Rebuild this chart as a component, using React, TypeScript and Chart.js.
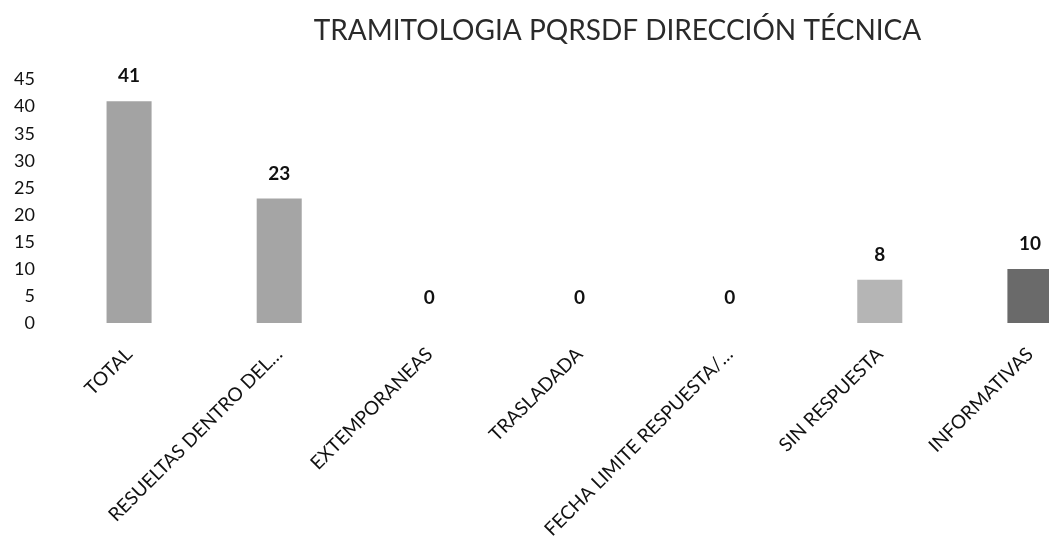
import React, { useEffect, useRef } from "react";
import { Chart, registerables } from "chart.js";

Chart.register(...registerables);

const TITLE = "TRAMITOLOGIA PQRSDF DIRECCIÓN TÉCNICA";
const categories = [
  "TOTAL",
  "RESUELTAS DENTRO DEL…",
  "EXTEMPORANEAS",
  "TRASLADADA",
  "FECHA LIMITE RESPUESTA/…",
  "SIN RESPUESTA",
  "INFORMATIVAS",
];
const values = [41, 23, 0, 0, 0, 8, 10];
const barColors = ["#a3a3a3", "#a5a5a5", "#a3a3a3", "#a3a3a3", "#a3a3a3", "#b5b5b5", "#6a6a6a"];
const Y_MIN = 0;
const Y_MAX = 45;
const Y_STEP = 5;

const FONT = "Lato, 'Liberation Sans', sans-serif";

const valueLabels = {
  id: "valueLabels",
  afterDatasetsDraw(chart: any) {
    const ctx = chart.ctx;
    const meta = chart.getDatasetMeta(0);
    ctx.save();
    ctx.font = `bold 19px ${FONT}`;
    ctx.fillStyle = "#111111";
    ctx.textAlign = "center";
    ctx.textBaseline = "middle";
    meta.data.forEach((bar: any, i: number) => {
      ctx.fillText(String(values[i]), bar.x, bar.y - 25);
    });
    ctx.restore();
  },
};

export default function App() {
  const ref = useRef<HTMLCanvasElement | null>(null);
  useEffect(() => {
    if (!ref.current) return;
    const chart = new Chart(ref.current, {
      type: "bar",
      data: {
        labels: categories,
        datasets: [
          {
            data: values,
            backgroundColor: barColors,
            borderWidth: 0,
            categoryPercentage: 1,
            barPercentage: 0.3,
          },
        ],
      },
      options: {
        animation: false,
        responsive: false,
        devicePixelRatio: 1,
        layout: { padding: 0 },
        plugins: {
          legend: { display: false },
          tooltip: { enabled: false },
          title: {
            display: true,
            text: TITLE,
            color: "#2a2a2a",
            font: { family: FONT, size: 28, weight: "normal" },
            padding: { top: 14, bottom: 32 },
          },
        },
        scales: {
          x: {
            grid: { display: false, drawTicks: false },
            border: { display: false },
            ticks: {
              autoSkip: false,
              maxRotation: 45,
              minRotation: 45,
              padding: 20,
              color: "#111111",
              font: { family: FONT, size: 19 },
            },
            afterFit: (s: any) => {
              s.height = 213;
            },
          },
          y: {
            min: Y_MIN,
            max: Y_MAX,
            grid: { display: false, drawTicks: false },
            border: { display: false },
            ticks: {
              stepSize: Y_STEP,
              padding: 19,
              color: "#111111",
              font: { family: FONT, size: 18 },
            },
            afterFit: (s: any) => {
              s.width = 54;
            },
          },
          y2: {
            position: "right",
            min: Y_MIN,
            max: Y_MAX,
            grid: { display: false, drawTicks: false },
            border: { display: false },
            ticks: { display: false },
            afterFit: (s: any) => {
              s.width = 130;
            },
          },
        },
      },
      plugins: [valueLabels],
    });
    return () => chart.destroy();
  }, []);
  return (
    <div
      style={{
        position: "fixed",
        left: 0,
        top: 0,
        width: 1049,
        height: 536,
        overflow: "hidden",
        background: "#ffffff",
      }}
    >
      <canvas ref={ref} width={1235} height={536} style={{ display: "block" }} />
    </div>
  );
}
